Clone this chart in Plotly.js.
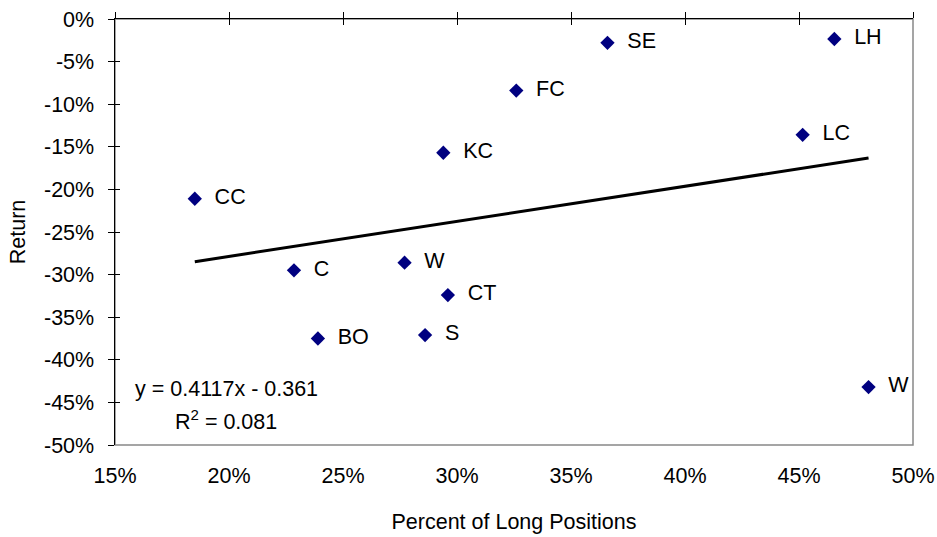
<!DOCTYPE html>
<html>
<head>
<meta charset="utf-8">
<script src="https://cdn.plot.ly/plotly-3.0.1.min.js"></script>
<style>html,body{margin:0;padding:0;background:#fff;}#chart{width:937px;height:537px;}</style>
</head>
<body>
<div id="chart"></div>
<script>
// ---- data ----
const commodities = ['CC','C','BO','W','S','CT','KC','FC','SE','LH','LC','W'];
const longPct     = [0.185,0.2285,0.239,0.277,0.286,0.296,0.294,0.326,0.366,0.4655,0.4516,0.4805];
const returns     = [-0.211,-0.295,-0.375,-0.286,-0.371,-0.324,-0.157,-0.084,-0.028,-0.0235,-0.136,-0.432];
const trendSlope = 0.4117;
const trendIntercept = -0.361;
const xTickVals = [0.15,0.20,0.25,0.30,0.35,0.40,0.45,0.50];
const xTickText = ['15%','20%','25%','30%','35%','40%','45%','50%'];
const yTickVals = [0,-0.05,-0.10,-0.15,-0.20,-0.25,-0.30,-0.35,-0.40,-0.45,-0.50];
const yTickText = ['0%','-5%','-10%','-15%','-20%','-25%','-30%','-35%','-40%','-45%','-50%'];

const FONT = 'Liberation Sans, Arial, sans-serif';
const FS = 21.5;
const xMin = Math.min(...longPct), xMax = Math.max(...longPct);
const trendX = [xMin, xMax];
const trendY = trendX.map(v => trendSlope * v + trendIntercept);

const traces = [
  {x: trendX, y: trendY, type:'scatter', mode:'lines', line:{color:'#000', width:3}, hoverinfo:'skip', showlegend:false},
  {x: longPct, y: returns, text: commodities.map(t => '  ' + t), type:'scatter', mode:'markers+text',
   textposition:'middle right', textfont:{family:FONT, size:FS, color:'#000'},
   marker:{symbol:'diamond', size:11, color:'#000080'}, showlegend:false},
  {x:[], y:[], xaxis:'x2', yaxis:'y', showlegend:false, hoverinfo:'skip'},
  {x:[], y:[], xaxis:'x3', yaxis:'y', showlegend:false, hoverinfo:'skip'},
  {x:[], y:[], xaxis:'x', yaxis:'y2', showlegend:false, hoverinfo:'skip'}
];

const layout = {
  width:937, height:537,
  margin:{l:115, r:24, t:19, b:92},
  paper_bgcolor:'#fff', plot_bgcolor:'#fff',
  font:{family:FONT, size:FS, color:'#000'},
  showlegend:false,
  xaxis:{range:[0.15,0.5], tickvals:xTickVals, ticktext:xTickText, ticks:'', showline:false,
         showgrid:false, zeroline:false, tickfont:{size:FS}, ticklabelstandoff:15,
         title:{text:'Percent of Long Positions', font:{size:FS}, standoff:27}},
  xaxis2:{range:[0.15,0.5], overlaying:'x', anchor:'y', side:'top', tickvals:xTickVals, ticks:'outside',
          ticklen:6, tickcolor:'#000', tickwidth:1, showline:true, linecolor:'#000', linewidth:1.5,
          showticklabels:false, showgrid:false, zeroline:false},
  xaxis3:{range:[0.15,0.5], overlaying:'x', anchor:'y', side:'top', tickvals:xTickVals, ticks:'inside',
          ticklen:6, tickcolor:'#000', tickwidth:1, showline:false, showticklabels:false, showgrid:false, zeroline:false},
  yaxis:{range:[-0.5,0], tickvals:yTickVals, ticktext:yTickText, ticks:'outside', ticklen:6, tickcolor:'#000',
         tickwidth:1, showline:true, linecolor:'#000', linewidth:1.5, showgrid:false, zeroline:false,
         ticklabelstandoff:9, tickfont:{size:FS}, title:{text:'Return', font:{size:FS}, standoff:12}},
  yaxis2:{range:[-0.5,0], overlaying:'y', anchor:'x', side:'left', tickvals:yTickVals, ticks:'inside', ticklen:5,
          tickcolor:'#000', tickwidth:1, showline:false, showticklabels:false, showgrid:false, zeroline:false},
  shapes:[{type:'rect', xref:'paper', yref:'paper', x0:0, x1:1, y0:0, y1:1, line:{color:'#888', width:1.5}, layer:'below'}],
  annotations:[
    {xref:'x', yref:'y', x:0.1987, y:-0.434, text:'y = 0.4117x - 0.361', showarrow:false, font:{size:FS}},
    {xref:'x', yref:'y', x:0.1989, y:-0.471, text:'R<sup>2</sup> = 0.081', showarrow:false, font:{size:FS}}
  ]
};

Plotly.newPlot('chart', traces, layout, {staticPlot:true, displayModeBar:false});
</script>
</body>
</html>
